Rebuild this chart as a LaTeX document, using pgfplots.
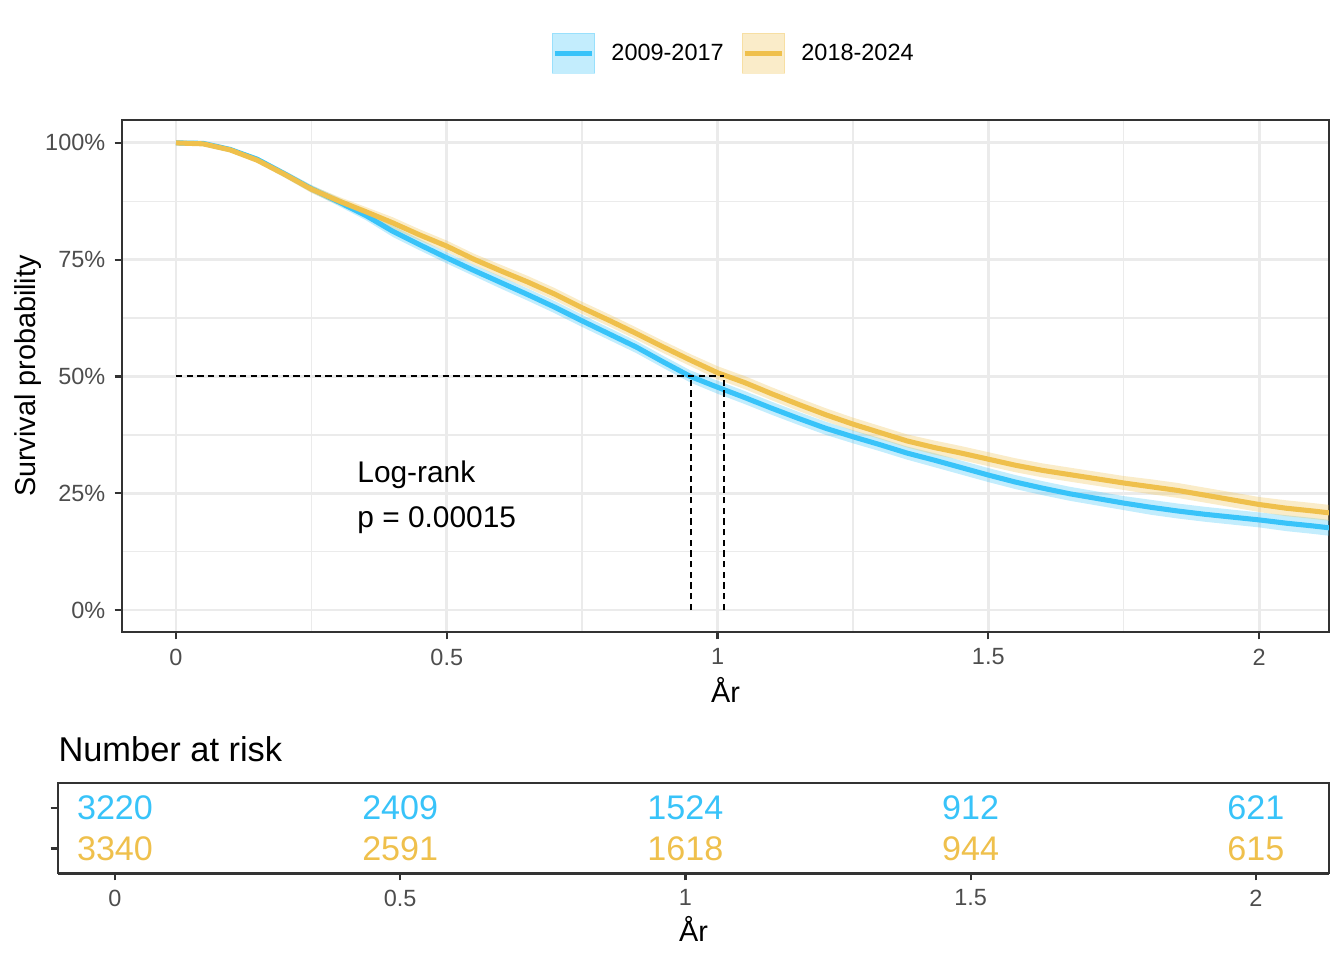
\documentclass[border=0pt]{standalone}
\usepackage{fontspec}
\setmainfont{Liberation Sans}
\usepackage{pgfplots}
\usepackage{pgfplotstable}
\pgfplotsset{compat=1.18}
\usepgfplotslibrary{fillbetween}
\definecolor{c1}{RGB}{56,195,249}
\definecolor{c2}{RGB}{239,192,76}
\definecolor{grid92}{RGB}{235,235,235}
\definecolor{grey20}{RGB}{51,51,51}
\definecolor{grey30}{RGB}{77,77,77}

% 2009-2017: time, survival, lower, upper
\pgfplotstableread{
t s lo hi
0.00 1.000 1.000 1.000
0.05 0.999 0.997 1.000
0.10 0.986 0.982 0.990
0.15 0.965 0.959 0.971
0.20 0.934 0.927 0.941
0.25 0.902 0.894 0.910
0.30 0.874 0.865 0.883
0.35 0.845 0.835 0.855
0.40 0.811 0.799 0.823
0.45 0.782 0.770 0.794
0.50 0.754 0.742 0.766
0.55 0.727 0.715 0.739
0.60 0.701 0.688 0.714
0.65 0.675 0.662 0.688
0.70 0.648 0.635 0.661
0.75 0.619 0.606 0.632
0.80 0.591 0.578 0.604
0.85 0.563 0.550 0.576
0.90 0.531 0.518 0.544
0.95 0.500 0.487 0.513
1.00 0.477 0.463 0.491
1.05 0.455 0.441 0.469
1.10 0.432 0.418 0.446
1.15 0.410 0.396 0.424
1.20 0.389 0.375 0.403
1.25 0.371 0.357 0.385
1.30 0.354 0.340 0.368
1.35 0.336 0.322 0.350
1.40 0.321 0.306 0.336
1.45 0.305 0.290 0.320
1.50 0.289 0.274 0.304
1.55 0.274 0.259 0.289
1.60 0.261 0.246 0.276
1.65 0.249 0.234 0.264
1.70 0.239 0.224 0.254
1.75 0.229 0.214 0.244
1.80 0.220 0.204 0.236
1.85 0.212 0.196 0.228
1.90 0.205 0.189 0.221
1.95 0.199 0.183 0.215
2.00 0.193 0.177 0.209
2.05 0.186 0.169 0.203
2.10 0.180 0.163 0.197
2.13 0.176 0.159 0.193
}\earlytab

% 2018-2024: time, survival, lower, upper
\pgfplotstableread{
t s lo hi
0.00 1.000 1.000 1.000
0.05 0.998 0.996 1.000
0.10 0.985 0.981 0.989
0.15 0.963 0.957 0.969
0.20 0.933 0.926 0.940
0.25 0.901 0.893 0.909
0.30 0.876 0.867 0.885
0.35 0.853 0.843 0.863
0.40 0.829 0.817 0.841
0.45 0.803 0.791 0.815
0.50 0.779 0.767 0.791
0.55 0.751 0.739 0.763
0.60 0.726 0.713 0.739
0.65 0.702 0.689 0.715
0.70 0.676 0.663 0.689
0.75 0.647 0.634 0.660
0.80 0.620 0.607 0.633
0.85 0.592 0.579 0.605
0.90 0.563 0.550 0.576
0.95 0.535 0.522 0.548
1.00 0.508 0.494 0.522
1.05 0.487 0.473 0.501
1.10 0.463 0.449 0.477
1.15 0.440 0.426 0.454
1.20 0.418 0.404 0.432
1.25 0.398 0.384 0.412
1.30 0.380 0.366 0.394
1.35 0.362 0.348 0.376
1.40 0.348 0.333 0.363
1.45 0.336 0.321 0.351
1.50 0.323 0.308 0.338
1.55 0.310 0.295 0.325
1.60 0.299 0.284 0.314
1.65 0.290 0.275 0.305
1.70 0.281 0.266 0.296
1.75 0.272 0.257 0.287
1.80 0.264 0.248 0.280
1.85 0.256 0.240 0.272
1.90 0.246 0.230 0.262
1.95 0.236 0.220 0.252
2.00 0.226 0.210 0.242
2.05 0.218 0.201 0.235
2.10 0.212 0.195 0.229
2.13 0.208 0.191 0.225
}\latetab

% number at risk
\pgfplotstableread{
t row n
0.0 2 3220
0.5 2 2409
1.0 2 1524
1.5 2 912
2.0 2 621
}\riskA
\pgfplotstableread{
t row n
0.0 1 3340
0.5 1 2591
1.0 1 1618
1.5 1 944
2.0 1 615
}\riskB

\newcommand{\ticksize}{\fontsize{8.8}{10}\selectfont}
\newcommand{\titlesize}{\fontsize{10.8}{13}\selectfont}

\begin{document}
\begin{tikzpicture}
\path (0,0) rectangle (504pt,-360pt);

\begin{axis}[
    at={(45.75pt,-237pt)}, anchor=south west,
    scale only axis, width=452.6pt, height=192pt,
    xmin=-0.0997, xmax=2.129, ymin=-0.047, ymax=1.049,
    xtick={0,0.5,1,1.5,2},
    xticklabels={0,0.5,1,1.5,2},
    ytick={0,0.25,0.5,0.75,1},
    yticklabels={0\%,25\%,50\%,75\%,100\%},
    minor xtick={0.25,0.75,1.25,1.75},
    minor ytick={0.125,0.375,0.625,0.875},
    grid=both,
    major grid style={grid92, line width=1.07pt},
    minor grid style={grid92, line width=0.53pt},
    minor tick length=0pt,
    tick align=outside, tick pos=left,
    major tick length=2.75pt,
    every tick/.style={grey20, line width=0.8pt},
    axis line style={grey20, line width=0.8pt},
    tick label style={font=\ticksize, text=grey30},
    xlabel={År}, ylabel={Survival probability},
    every axis x label/.style={at={(axis description cs:0.5,-0.113)}, anchor=center, font=\titlesize},
    every axis y label/.style={at={(axis description cs:-0.0775,0.5)}, rotate=90, anchor=center,
        font=\titlesize},
    legend style={at={(axis description cs:0.506,1.130)}, anchor=center,
        draw=none, fill=none, legend columns=2, font=\ticksize,
        nodes={inner sep=0pt},
        /tikz/every odd column/.append style={column sep=6pt},
        /tikz/every even column/.append style={column sep=6.75pt}},
]
\addlegendimage{legend image code/.code={
    \fill[c1, opacity=0.3] (0pt,-7.1pt) rectangle (16pt,7.9pt);
    \draw[c1, line width=1.9pt] (1pt,0.4pt) -- (15pt,0.4pt);}}
\addlegendentry{2009-2017}
\addlegendimage{legend image code/.code={
    \fill[c2, opacity=0.3] (0pt,-7.1pt) rectangle (16pt,7.9pt);
    \draw[c2, line width=1.9pt] (1pt,0.4pt) -- (15pt,0.4pt);}}
\addlegendentry{2018-2024}

\addplot[c1, line width=1.9pt, forget plot] table[x=t, y=s] {\earlytab};
\addplot[c2, line width=1.9pt, forget plot] table[x=t, y=s] {\latetab};

\addplot[draw=none, name path=ehi, forget plot] table[x=t, y=hi] {\earlytab};
\addplot[draw=none, name path=elo, forget plot] table[x=t, y=lo] {\earlytab};
\addplot[c1, fill opacity=0.3, draw=none, forget plot] fill between[of=ehi and elo];
\addplot[draw=none, name path=lhi, forget plot] table[x=t, y=hi] {\latetab};
\addplot[draw=none, name path=llo, forget plot] table[x=t, y=lo] {\latetab};
\addplot[c2, fill opacity=0.3, draw=none, forget plot] fill between[of=lhi and llo];

% median lines
\addplot[black, line width=0.75pt, dash pattern=on 2.4pt off 1.6pt, forget plot]
    coordinates {(0,0.5) (1.012,0.5)};
\addplot[black, line width=0.75pt, dash pattern=on 2.4pt off 1.6pt, forget plot]
    coordinates {(0.951,0) (0.951,0.5)};
\addplot[black, line width=0.75pt, dash pattern=on 2.4pt off 1.6pt, forget plot]
    coordinates {(1.012,0) (1.012,0.5)};

\node[anchor=base west, inner sep=0pt, font=\fontsize{11.2}{13}\selectfont] at (axis cs:0.334,0.274) {Log-rank};
\node[anchor=base west, inner sep=0pt, font=\fontsize{11.2}{13}\selectfont] at (axis cs:0.334,0.176) {p = 0.00015};
\end{axis}

\node[anchor=base west, inner sep=0pt, font=\fontsize{12.9}{15}\selectfont] at (21.75pt,-285.4pt) {Number at risk};

\begin{axis}[
    at={(21.75pt,-327.4pt)}, anchor=south west,
    scale only axis, width=476.6pt, height=33.75pt,
    xmin=-0.0999, xmax=2.128, ymin=0.4, ymax=2.6,
    xtick={0,0.5,1,1.5,2},
    xticklabels={0,0.5,1,1.5,2},
    ytick={1,2}, yticklabels={,},
    tick align=outside, tick pos=left,
    major tick length=2.75pt,
    every tick/.style={grey20, line width=0.8pt},
    axis line style={grey20, line width=0.8pt},
    tick label style={font=\ticksize, text=grey30},
    xlabel={År},
    every axis x label/.style={at={(axis description cs:0.5,-0.622)}, anchor=center, font=\titlesize},
    after end axis/.code={\draw[grey20, line width=1.1pt] (rel axis cs:0,0) -- (rel axis cs:1,0);},
]
\addplot[draw=none, mark=none, nodes near coords, point meta=explicit symbolic,
    every node near coord/.style={anchor=center, text=c1, font=\fontsize{12.8}{14}\selectfont}]
    table[x=t, y=row, meta=n] {\riskA};
\addplot[draw=none, mark=none, nodes near coords, point meta=explicit symbolic,
    every node near coord/.style={anchor=center, text=c2, font=\fontsize{12.8}{14}\selectfont}]
    table[x=t, y=row, meta=n] {\riskB};
\end{axis}
\end{tikzpicture}
\end{document}
